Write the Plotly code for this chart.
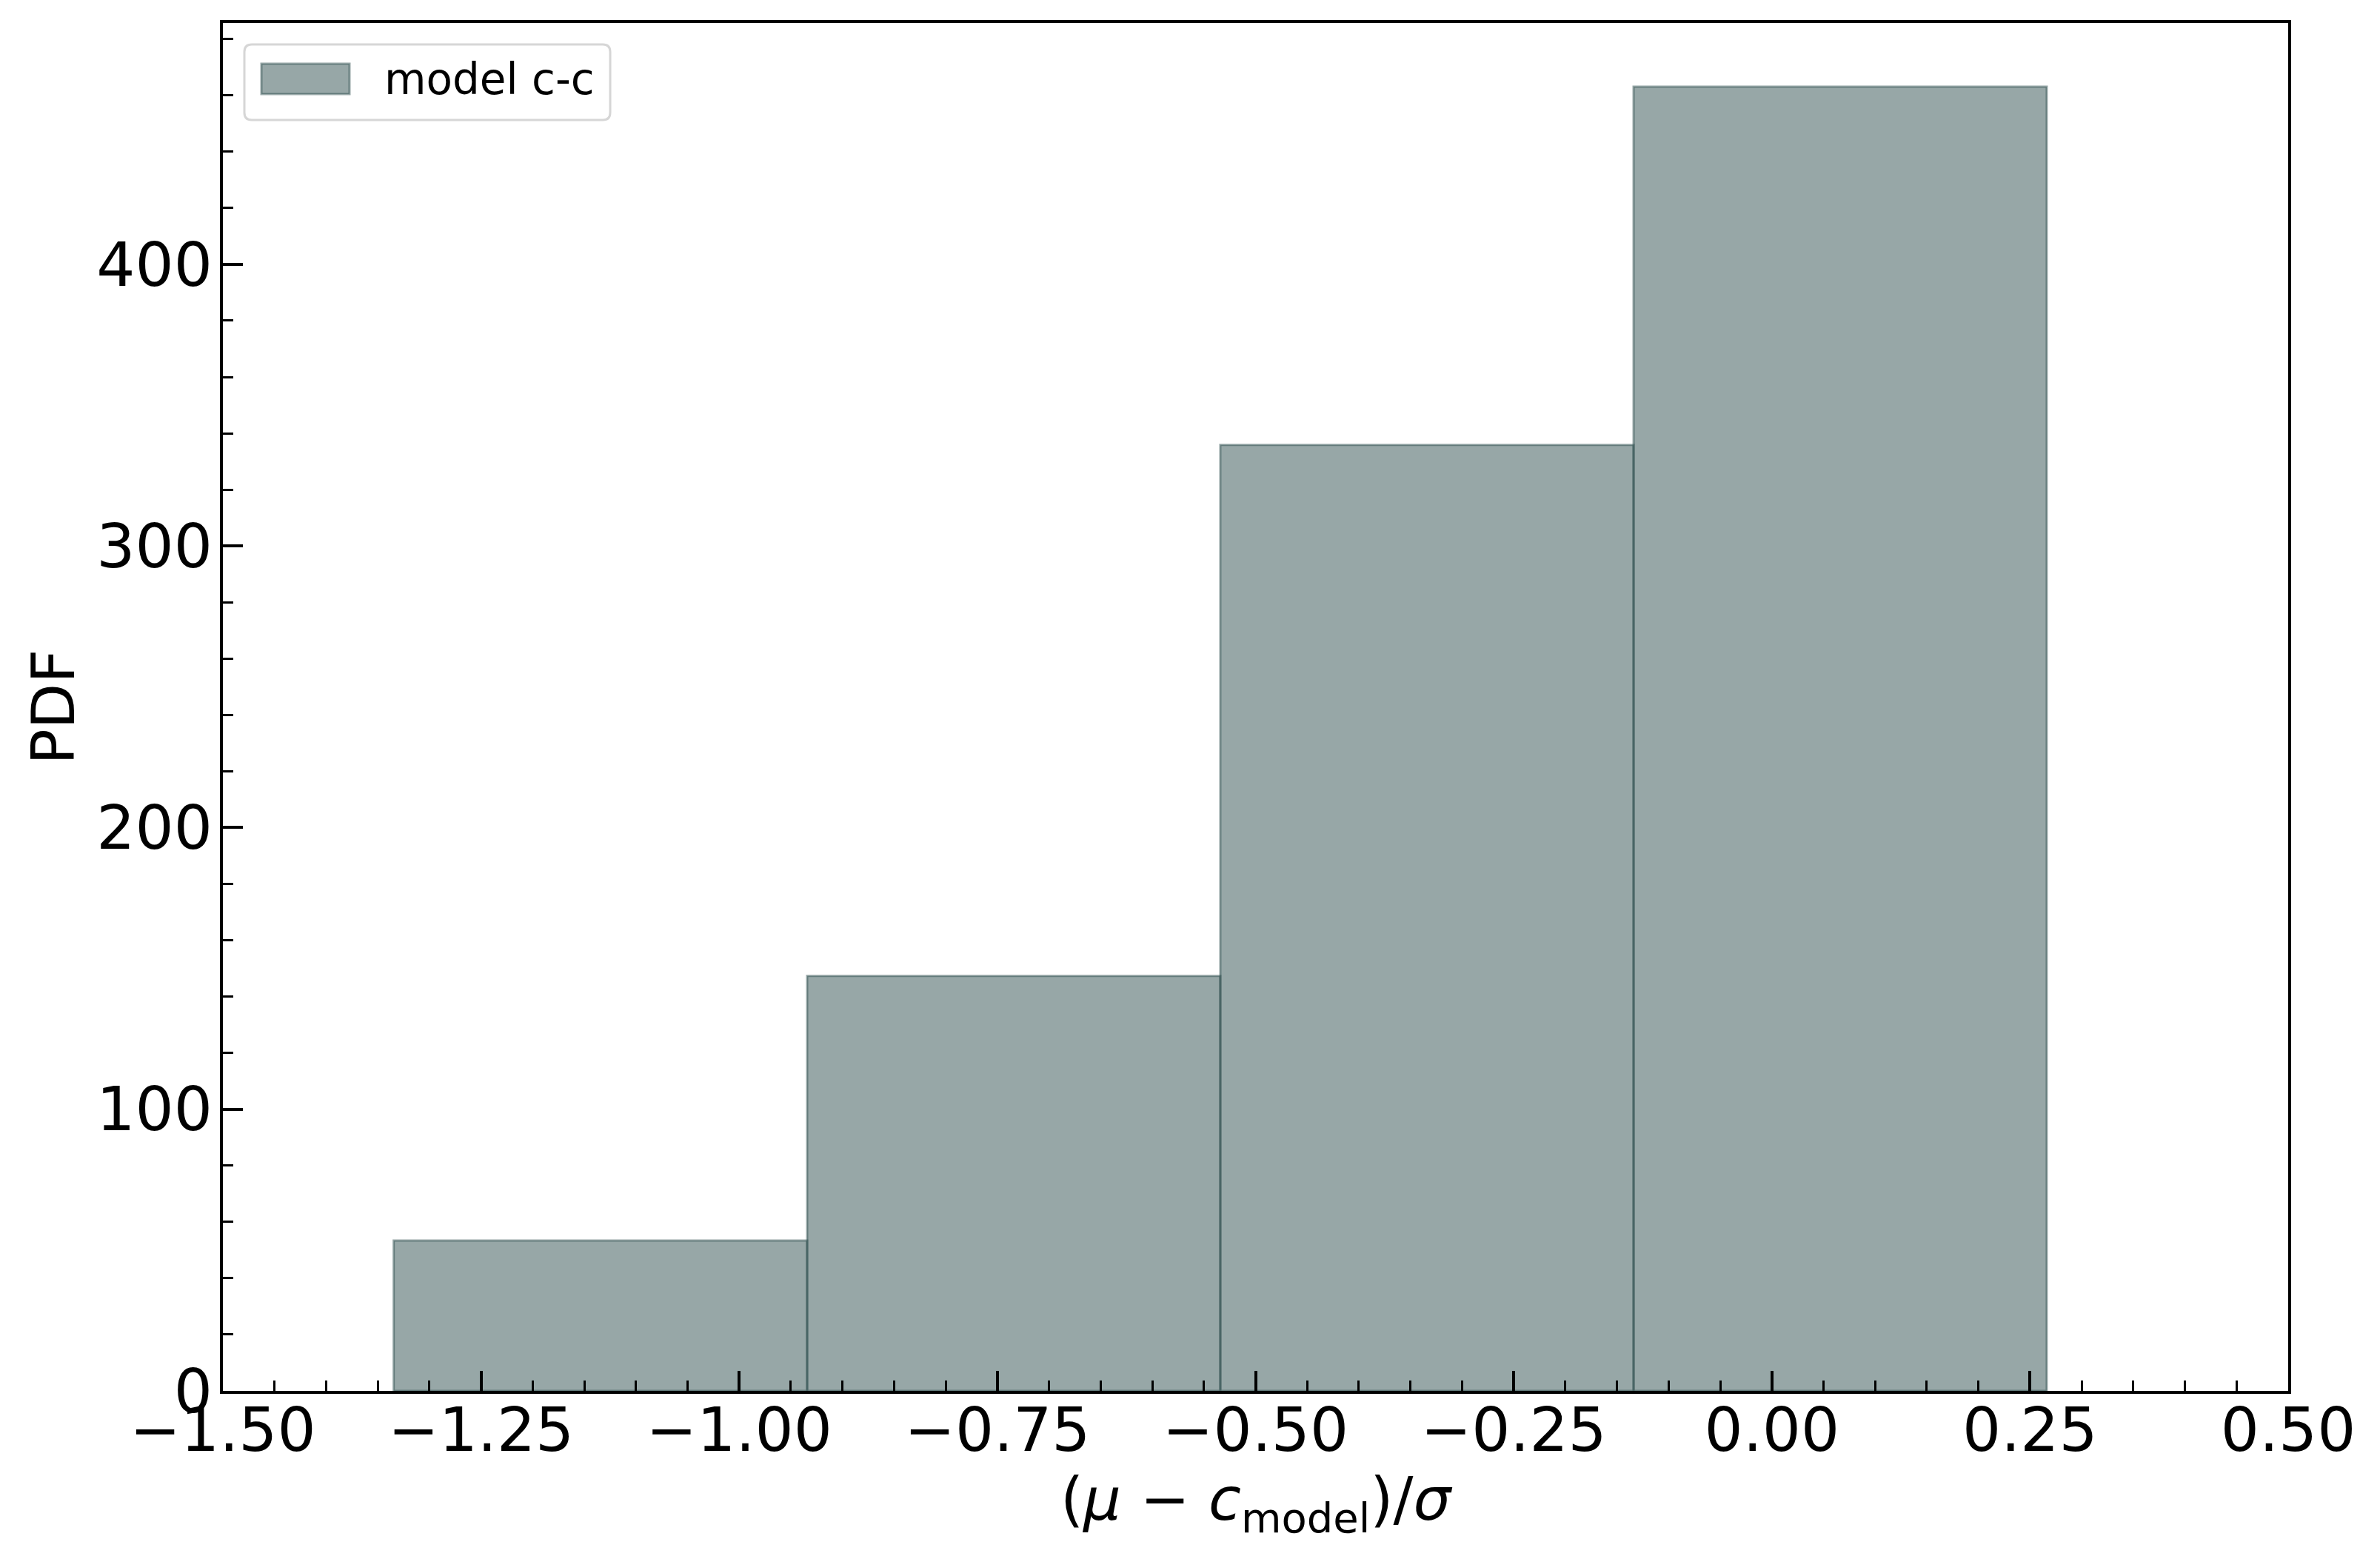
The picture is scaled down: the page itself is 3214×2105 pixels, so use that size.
import numpy as np
import plotly.graph_objects as go

# histogram
bin_edges = [-1.3346, -0.9342, -0.5341, -0.1339, 0.2662]
pdf_values = [53.4, 147.3, 335.9, 463.1]
series_name = "model c-c"

x_tickvals = [-1.5, -1.25, -1.0, -0.75, -0.5, -0.25, 0.0, 0.25, 0.5]
x_ticktext = ["\u22121.50", "\u22121.25", "\u22121.00", "\u22120.75", "\u22120.50",
              "\u22120.25", "0.00", "0.25", "0.50"]
y_tickvals = [0, 100, 200, 300, 400]
y_ticktext = ["0", "100", "200", "300", "400"]

edges = np.array(bin_edges)
widths = np.diff(edges)

# the page body has an 8px margin, so the figure is drawn 8px smaller
W, H = 3214 - 8, 2105 - 8
ml, mr, mt, mb = 293, 124, 23, 227
font = "DejaVu Sans"
bar_rgba = "rgba(47,79,79,0.5)"

fig = go.Figure()
fig.add_trace(go.Bar(
    x=edges[:-1], y=pdf_values, width=widths, offset=0,
    name=series_name, showlegend=False,
    marker=dict(color=bar_rgba, line=dict(color=bar_rgba, width=3)),
))

axis_common = dict(
    showline=True, linecolor="black", linewidth=3.5, mirror=True,
    ticks="inside", ticklen=27, tickwidth=3.5, tickcolor="black",
    showgrid=False, zeroline=False,
    tickfont=dict(family=font, size=82, color="black"),
    automargin=False,
)

xlabel = ("(<i>\u03bc</i> \u2212 <i>c</i>"
          "<sub><span style='font-size:56px'>model</span></sub>)/<i>\u03c3</i>")

fig.update_xaxes(
    range=[-1.5, 0.5], tickmode="array", tickvals=x_tickvals, ticktext=x_ticktext,
    minor=dict(dtick=0.05, ticks="inside", ticklen=14, tickwidth=3, tickcolor="black"),
    title=dict(text=xlabel, font=dict(family=font, size=80, color="black"), standoff=18),
    ticklabelstandoff=-21,
    **axis_common,
)
fig.update_yaxes(
    range=[0, 485.7], tickmode="array", tickvals=y_tickvals, ticktext=y_ticktext,
    minor=dict(dtick=20, ticks="inside", ticklen=14, tickwidth=3, tickcolor="black"),
    title=dict(text="PDF", font=dict(family=font, size=80, color="black"), standoff=4),
    ticklabelstandoff=-6,
    **axis_common,
)

# legend drawn by hand so the patch is as large as the original
x0, x1, yt, yb, r = 29, 523, -29, -131, 10
box = (f"M {x0+r},{yt} L {x1-r},{yt} Q {x1},{yt} {x1},{yt-r} L {x1},{yb+r} "
       f"Q {x1},{yb} {x1-r},{yb} L {x0+r},{yb} Q {x0},{yb} {x0},{yb+r} "
       f"L {x0},{yt-r} Q {x0},{yt} {x0+r},{yt} Z")
fig.add_shape(type="path", path=box, xref="paper", yref="paper",
              xsizemode="pixel", ysizemode="pixel", xanchor=0, yanchor=1,
              line=dict(color="#d6d6d6", width=3), fillcolor="rgba(255,255,255,0.8)",
              layer="above")
fig.add_shape(type="rect", xref="paper", yref="paper",
              xsizemode="pixel", ysizemode="pixel", xanchor=0, yanchor=1,
              x0=52, x1=171, y0=-55, y1=-96,
              line=dict(color=bar_rgba, width=3), fillcolor=bar_rgba, layer="above")
fig.add_annotation(text=series_name, xref="paper", yref="paper",
                   x=0, xshift=216, xanchor="left", y=1, yshift=-76, yanchor="middle",
                   showarrow=False, font=dict(family=font, size=58, color="black"))

fig.update_layout(
    width=W, height=H,
    margin=dict(l=ml, r=mr, t=mt, b=mb),
    paper_bgcolor="white", plot_bgcolor="white",
    font=dict(family=font, color="black"),
)

fig.write_html("out.html")
